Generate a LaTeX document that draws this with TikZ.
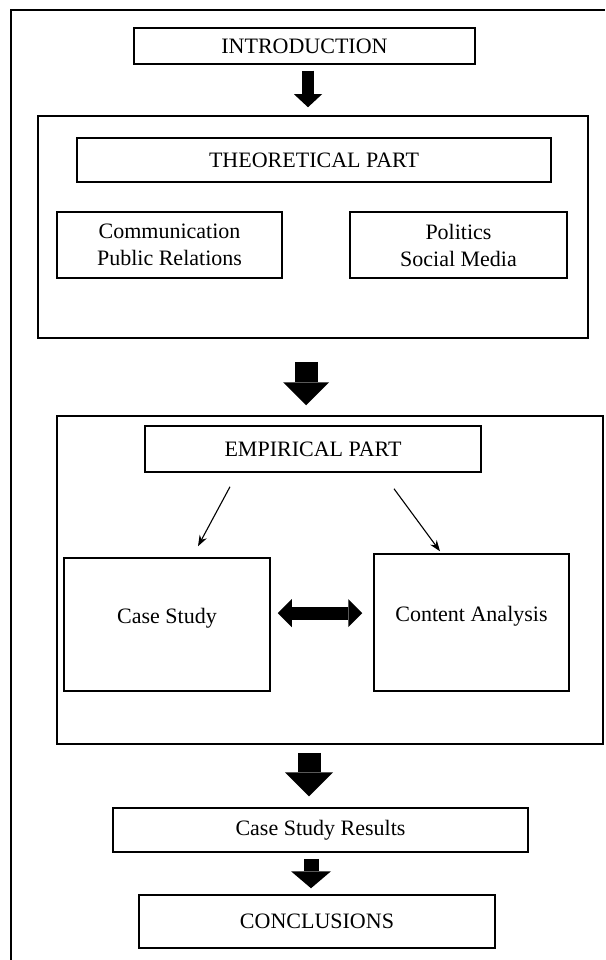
\documentclass[tikz,border=0pt]{standalone}
\usepackage{fontspec}
\setmainfont{Liberation Serif}
\usetikzlibrary{arrows.meta,calc}
\begin{document}
\begin{tikzpicture}[x=1pt,y=-1pt,
  box/.style={draw, line width=1.5pt, inner sep=0pt, align=center,
    font=\fontsize{22}{27}\selectfont},
  thinarrow/.style={line width=1.1pt, -{Stealth[length=11pt,width=8pt]}},
  bigarrow/.style n args={3}{line width=#1, -{Triangle[width=#2, length=#3, line width=0pt]}},
  bigdouble/.style n args={3}{line width=#1, {Triangle[width=#2, length=#3, line width=0pt]}-{Triangle[width=#2, length=#3, line width=0pt]}}]
\useasboundingbox (0,0) rectangle (605,960);
% outer frame (only top and left edges visible)
\coordinate (fb) at (11,960);
\coordinate (fc) at (11,10);
\coordinate (fr) at (605,10);
\draw[line width=1.5pt] (fb) -- (fc) -- (fr);
% boxes
\node[box, minimum width=341, minimum height=36] (intro) at (304.5,46) {INTRODUCTION};
\node[box, minimum width=550, minimum height=222] (theo) at (313,227) {};
\node[box, minimum width=474, minimum height=44] (theopart) at (314,160) {THEORETICAL PART};
\node[box, minimum width=225, minimum height=66] (comm) at (169.5,245) {Communication\\Public Relations};
\node[box, minimum width=217, minimum height=66] (pol) at (458.5,245) {Politics\\Social Media};
\node[box, minimum width=546, minimum height=328] (emp) at (330,580) {};
\node[box, minimum width=336, minimum height=46] (emppart) at (313,449) {EMPIRICAL PART};
\node[box, minimum width=206, minimum height=133, text depth=18pt] (case) at (167,624.5) {Case Study};
\node[box, minimum width=195, minimum height=137, text depth=18pt] (content) at (471.5,622.5) {Content Analysis};
\node[box, minimum width=415, minimum height=44] (results) at (320.5,830) {Case Study Results};
\node[box, minimum width=356, minimum height=53] (concl) at (317,921.5) {CONCLUSIONS};
% block arrows
\draw[bigarrow={12pt}{28pt}{13pt}] ($(intro.south)+(3.5,6)$) -- ($(intro.south |- theo.north)+(3.5,-8)$);
\draw[bigarrow={23pt}{46pt}{23pt}] ($(theo.south)+(-7,23)$) -- ($(theo.south |- emp.north)+(-7,-10)$);
\draw[bigarrow={23pt}{48pt}{24pt}] ($(emp.south)+(-21,8)$) -- ($(emp.south |- results.north)+(-21,-11)$);
\draw[bigarrow={15pt}{40pt}{17pt}] ($(results.south)+(-9.5,6)$) -- ($(results.south |- concl.north)+(-9.5,-6)$);
\draw[bigdouble={13pt}{28pt}{14pt}] ($(case.east)+(7,-11.5)$) -- ($(case.east -| content.west)+(-11,-11.5)$);
% thin arrows
\draw[thinarrow] ($(emppart.south)+(-83,14)$) -- ($(case.north)+(31,-11)$);
\draw[thinarrow] ($(emppart.south)+(81,16)$) -- ($(content.north)+(-31.5,-2)$);
\end{tikzpicture}
\end{document}
